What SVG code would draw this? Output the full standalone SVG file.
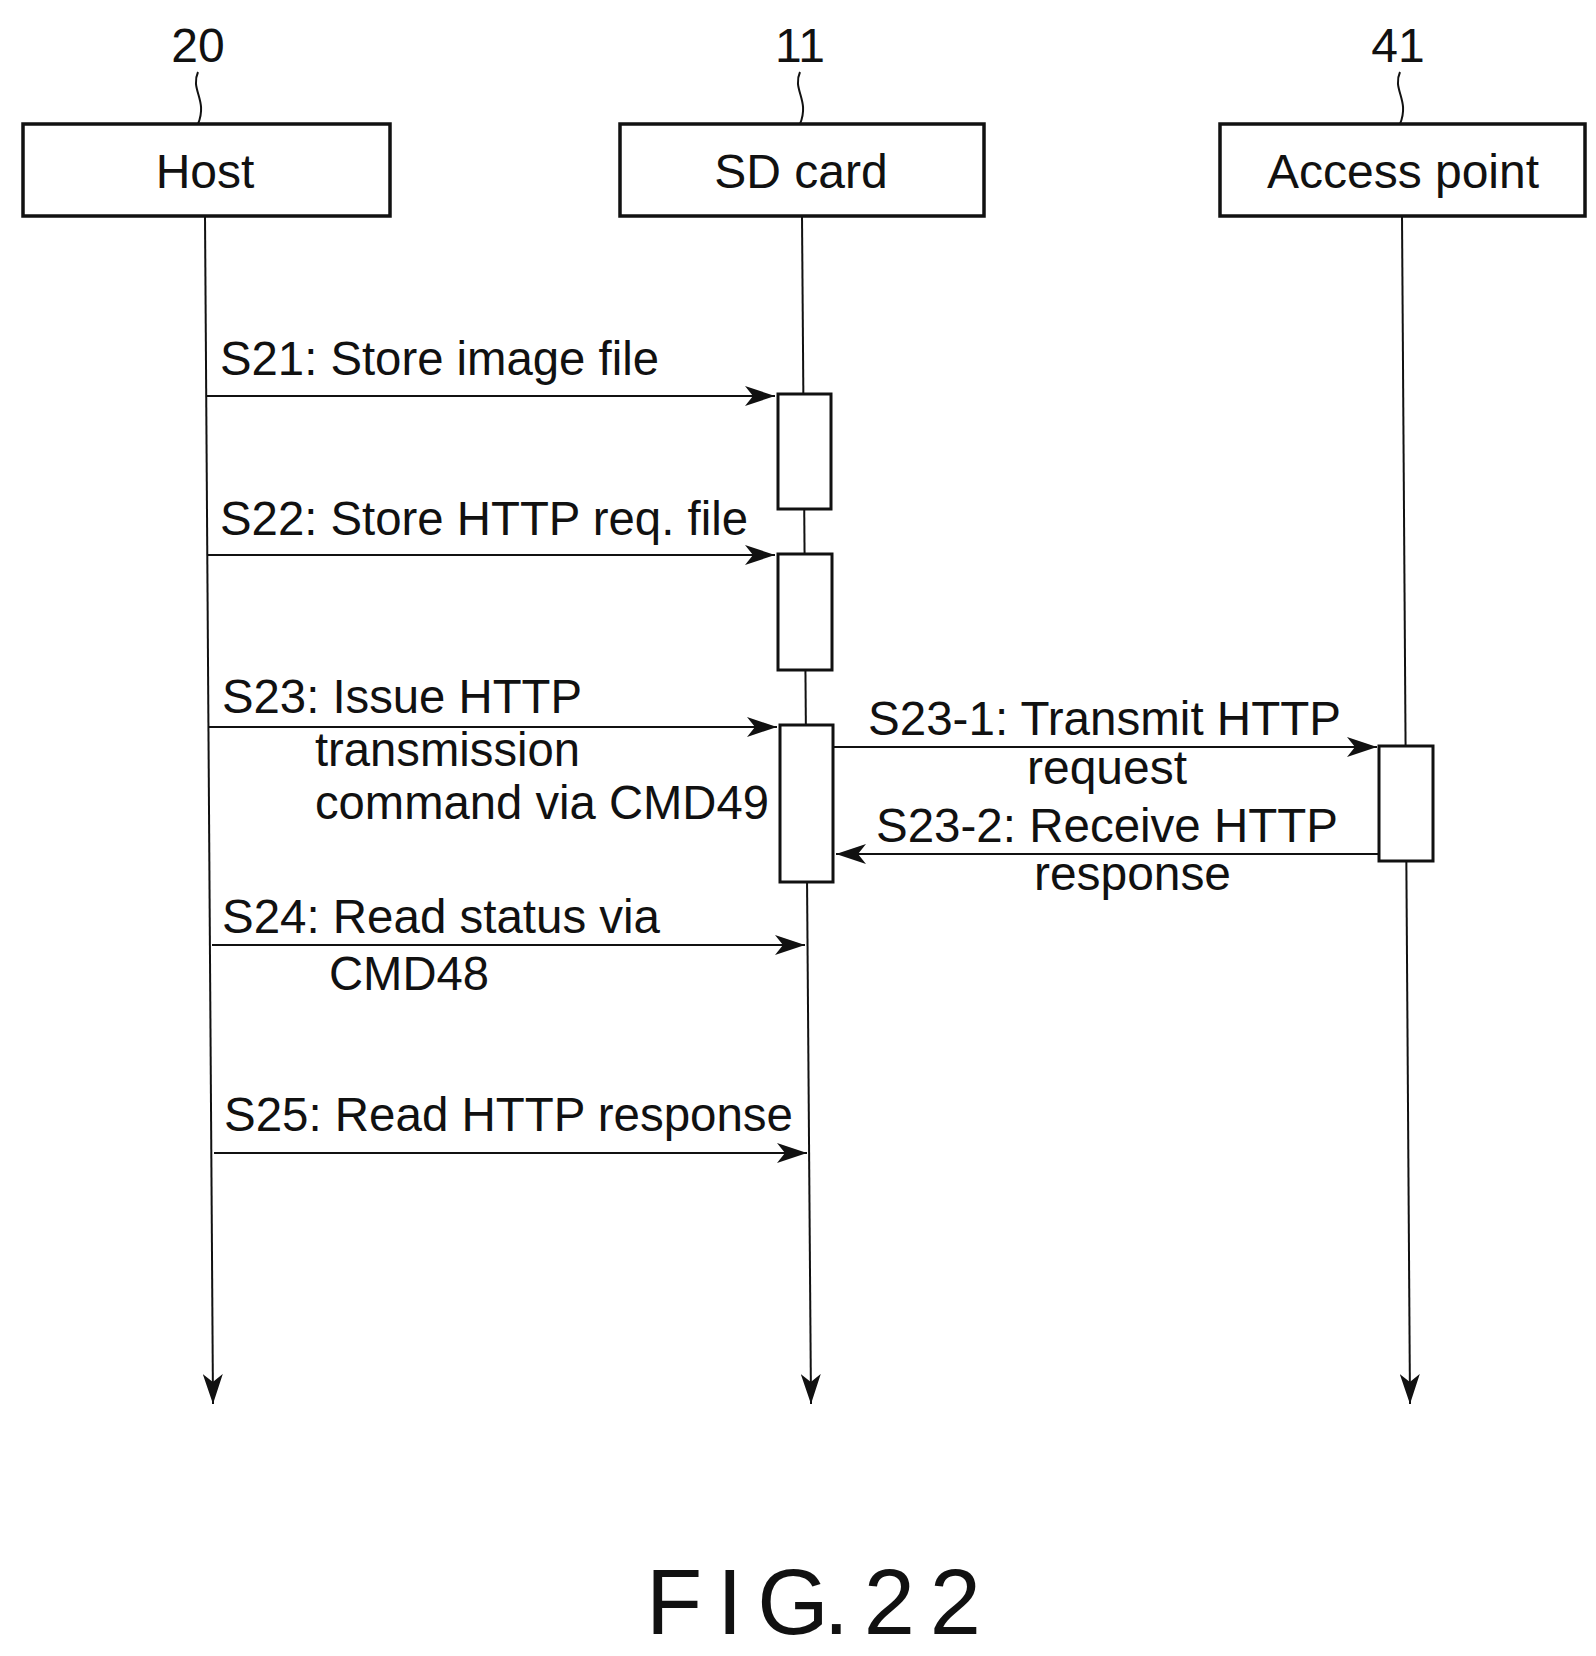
<svg xmlns="http://www.w3.org/2000/svg" width="1596" height="1656" viewBox="0 0 1596 1656">
<style>
text{font-family:"Liberation Sans",Arial,sans-serif;font-size:48px;fill:#111}
.c{text-anchor:middle}
.b{fill:#fff;stroke:#111;stroke-width:3.5}
.a{fill:#fff;stroke:#111;stroke-width:3}
.l{stroke:#111;stroke-width:2;fill:none}
</style>
<defs>
<marker id="ah" viewBox="0 0 30 20" refX="30" refY="10" markerWidth="30" markerHeight="20" markerUnits="userSpaceOnUse" orient="auto">
<path d="M0,0 L30,10 L0,20 L8,10 Z" fill="#111"/>
</marker>
</defs>
<rect width="1596" height="1656" fill="#fff"/>
<g id="connectors">
<path class="l" d="M205,216 L213,1404" marker-end="url(#ah)"/>
<path class="l" d="M802,216 L811,1404" marker-end="url(#ah)"/>
<path class="l" d="M1402,216 L1410,1404" marker-end="url(#ah)"/>
<path class="l" d="M198,72 C190,90 208,100 198,124"/>
<path class="l" d="M800,72 C792,90 810,100 800,124"/>
<path class="l" d="M1400,72 C1392,90 1410,100 1400,124"/>
<path class="l" d="M207,396 L775,396" marker-end="url(#ah)"/>
<path class="l" d="M208,555 L775,555" marker-end="url(#ah)"/>
<path class="l" d="M209,727 L777,727" marker-end="url(#ah)"/>
<path class="l" d="M833,747 L1377,747" marker-end="url(#ah)"/>
<path class="l" d="M1379,854 L836,854" marker-end="url(#ah)"/>
<path class="l" d="M212,945 L805,945" marker-end="url(#ah)"/>
<path class="l" d="M214,1153 L807,1153" marker-end="url(#ah)"/>
</g>
<g id="host"><rect class="b" x="23" y="124" width="367" height="92"/><text class="c" x="205" y="188">Host</text><text class="c" x="198" y="62">20</text></g>
<g id="sdcard"><rect class="b" x="620" y="124" width="364" height="92"/><text class="c" x="801" y="188">SD card</text><text class="c" x="800" y="62">11</text></g>
<g id="ap"><rect class="b" x="1220" y="124" width="365" height="92"/><text class="c" x="1403" y="188">Access point</text><text class="c" x="1398" y="62">41</text></g>
<g id="act1"><rect class="a" x="778" y="394" width="53" height="115"/></g>
<g id="act2"><rect class="a" x="778" y="554" width="54" height="116"/></g>
<g id="act3"><rect class="a" x="780" y="725" width="53" height="157"/></g>
<g id="act4"><rect class="a" x="1379" y="746" width="54" height="115"/></g>
<g id="labels">
<text x="220" y="375" textLength="439" lengthAdjust="spacingAndGlyphs">S21: Store image file</text>
<text x="220" y="535" textLength="528" lengthAdjust="spacingAndGlyphs">S22: Store HTTP req. file</text>
<text x="222" y="713" textLength="360" lengthAdjust="spacingAndGlyphs">S23: Issue HTTP</text>
<text x="315" y="766" textLength="265" lengthAdjust="spacingAndGlyphs">transmission</text>
<text x="315" y="819" textLength="454" lengthAdjust="spacingAndGlyphs">command via CMD49</text>
<text x="868" y="735" textLength="473" lengthAdjust="spacingAndGlyphs">S23-1: Transmit HTTP</text>
<text x="1027" y="784" textLength="160" lengthAdjust="spacingAndGlyphs">request</text>
<text x="876" y="842" textLength="462" lengthAdjust="spacingAndGlyphs">S23-2: Receive HTTP</text>
<text x="1034" y="890" textLength="197" lengthAdjust="spacingAndGlyphs">response</text>
<text x="222" y="933" textLength="438" lengthAdjust="spacingAndGlyphs">S24: Read status via</text>
<text x="329" y="990" textLength="160" lengthAdjust="spacingAndGlyphs">CMD48</text>
<text x="224" y="1131" textLength="569" lengthAdjust="spacingAndGlyphs">S25: Read HTTP response</text>
<text x="646" y="1634" style="font-size:92px" textLength="335" lengthAdjust="spacing">F I G. 2 2</text>
</g>
</svg>
